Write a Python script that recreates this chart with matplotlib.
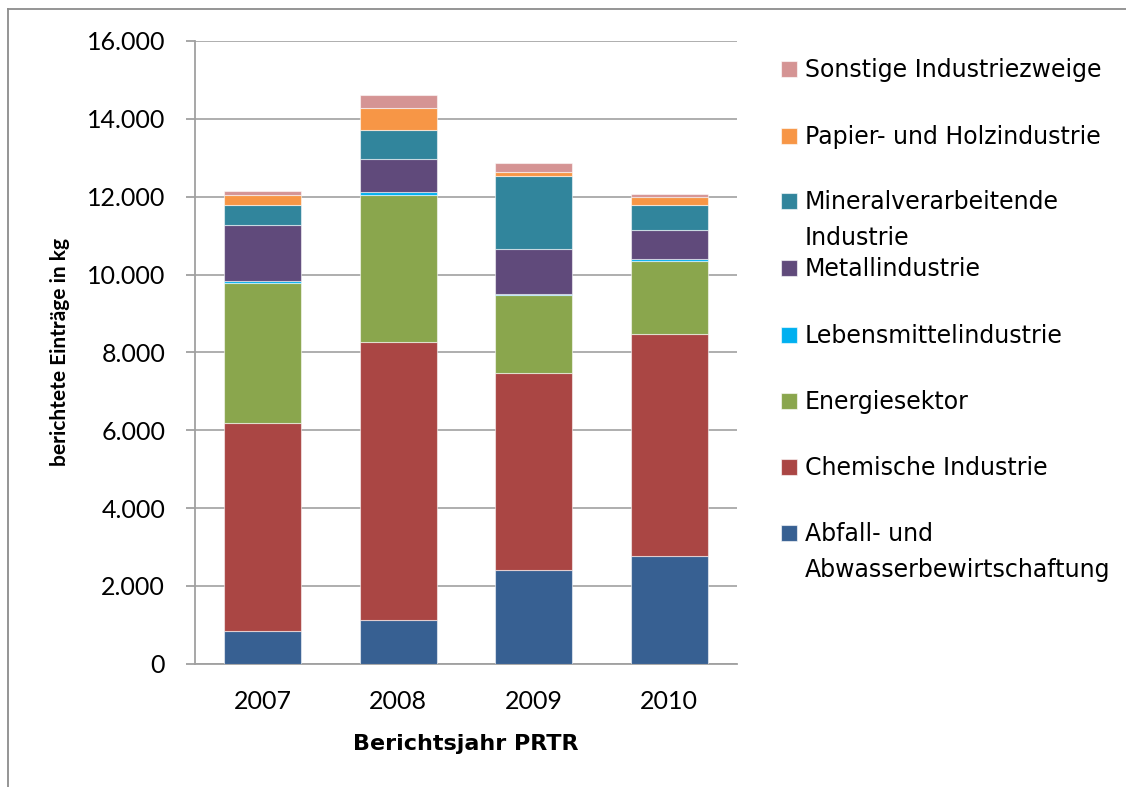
import numpy as np
import matplotlib
matplotlib.use('Agg')
import matplotlib.pyplot as plt
from matplotlib.patches import Rectangle
from matplotlib.lines import Line2D
from matplotlib.ticker import FuncFormatter

plt.rcParams['font.family'] = ['Lato', 'DejaVu Sans']

# Data (kg per reporting year)
years = ['2007', '2008', '2009', '2010']
abfall = [831, 1120, 2403, 2762]
chemie = [5341, 7154, 5059, 5717]
energie = [3605, 3766, 2018, 1880]
lebensmittel = [52, 73, 20, 44]
metall = [1451, 854, 1167, 743]
mineral = [497, 751, 1864, 634]
papier = [259, 549, 102, 220]
sonstige = [104, 333, 231, 69]

series_names = ['Abfall- und\nAbwasserbewirtschaftung', 'Chemische Industrie', 'Energiesektor',
                'Lebensmittelindustrie', 'Metallindustrie', 'Mineralverarbeitende\nIndustrie',
                'Papier- und Holzindustrie', 'Sonstige Industriezweige']
series_values = [abfall, chemie, energie, lebensmittel, metall, mineral, papier, sonstige]
colors = ['#376092', '#AA4644', '#8AA64D', '#00B0F0', '#604A7B', '#31859C', '#F79646', '#D59494']

W, H = 1126, 787
fig = plt.figure(figsize=(W / 100, H / 100), dpi=100)
ax = fig.add_axes([195 / W, (H - 663.7) / H, (737 - 195) / W, (663.7 - 41) / H])

x = np.arange(len(years))
bottom = np.zeros(len(years))
for vals, col in zip(series_values, colors):
    ax.bar(x, vals, width=0.57, bottom=bottom, color=col,
           edgecolor=(1, 1, 1, 0.55), linewidth=0.8, zorder=3)
    bottom += np.array(vals)

ax.set_xlim(-0.5, 3.5)
ax.set_ylim(0, 16000)
ax.set_yticks(np.arange(0, 16001, 2000))
ax.yaxis.set_major_formatter(FuncFormatter(lambda v, p: f'{int(v):,}'.replace(',', '.')))
ax.set_xticks(x)
ax.set_xticklabels(years)

ax.grid(axis='y', color='#A8A8A8', linewidth=1.3, zorder=0)
ax.set_axisbelow(True)
for s in ['top', 'right']:
    ax.spines[s].set_visible(False)
ax.spines['left'].set_color('#A0A0A0')
ax.spines['bottom'].set_color('#A0A0A0')
ax.spines['left'].set_linewidth(1.3)
ax.spines['bottom'].set_linewidth(1.3)
ax.tick_params(axis='y', length=6.5, width=1.3, color='#A0A0A0', pad=15, labelsize=18)
ax.tick_params(axis='x', length=0, pad=19, labelsize=18)

ax.set_xlabel('Berichtsjahr PRTR', fontsize=16, fontweight='bold', labelpad=15,
              family='DejaVu Sans')
ax.set_ylabel('berichtete Einträge in kg', fontsize=15, fontweight='bold', labelpad=12)

# Legend drawn by hand, reversed order (top = Sonstige)
centers = [69, 136, 201, 268, 335, 401, 467, 533]
for i, (name, col) in enumerate(zip(series_names[::-1], colors[::-1])):
    cy = centers[i]
    fig.patches.append(Rectangle((781 / W, (H - cy - 8) / H), 16 / W, 16 / H,
                                 transform=fig.transFigure, facecolor=col,
                                 edgecolor=(1, 1, 1, 0.6), linewidth=0.8))
    for j, line in enumerate(name.split('\n')):
        fig.text(805 / W, (H - cy - 8 - j * 36) / H, line, fontsize=17,
                 family='DejaVu Sans', va='baseline', ha='left', color='black')

# outer chart frame
fig.lines.append(Line2D([8 / W, 1], [(H - 9) / H, (H - 9) / H], transform=fig.transFigure,
                        color='#8C8C8C', linewidth=1.3))
fig.lines.append(Line2D([8 / W, 8 / W], [0, (H - 9) / H], transform=fig.transFigure,
                        color='#8C8C8C', linewidth=1.3))

fig.savefig('out.png', dpi=100)
